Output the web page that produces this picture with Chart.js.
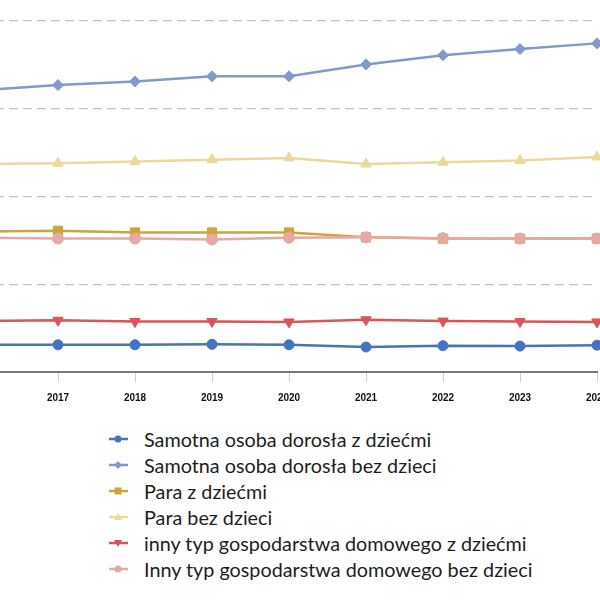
<!DOCTYPE html>
<html>
<head>
<meta charset="utf-8">
<script src="https://cdn.jsdelivr.net/npm/chart.js@4/dist/chart.umd.min.js"></script>
<style>
  html, body { margin: 0; padding: 0; background: #ffffff; }
  #wrap { position: relative; width: 600px; height: 600px; overflow: hidden; background: #fff; }
  #cv { position: absolute; left: -49px; top: 0; }
  #legend { position: absolute; left: 108px; top: 426px; font-family: Lato, "Open Sans", sans-serif; font-size: 19.8px; color: #1e1e1e; }
  .item { height: 26px; display: flex; align-items: center; white-space: nowrap; }
  .item svg { margin-right: 15px; flex: none; }
</style>
</head>
<body>
<div id="wrap">
  <canvas id="cv" width="676" height="423"></canvas>
  <div id="legend"></div>
</div>
<script>
const years = ["2016", "2017", "2018", "2019", "2020", "2021", "2022", "2023", "2024"];
const seriesNames = [
  "Samotna osoba dorosła z dziećmi",
  "Samotna osoba dorosła bez dzieci",
  "Para z dziećmi",
  "Para bez dzieci",
  "inny typ gospodarstwa domowego z dziećmi",
  "Inny typ gospodarstwa domowego bez dzieci"
];
const singleWithKids    = [3.1, 3.1, 3.1, 3.15, 3.1, 2.85, 3.0, 2.95, 3.05];
const singleNoKids      = [32.1, 32.7, 33.1, 33.7, 33.7, 35.05, 36.1, 36.8, 37.45];
const coupleWithKids    = [16.0, 16.1, 15.9, 15.9, 15.9, 15.35, 15.2, 15.2, 15.2];
const coupleNoKids      = [23.7, 23.8, 24.0, 24.2, 24.4, 23.7, 23.9, 24.1, 24.5];
const otherWithKids     = [5.8, 5.9, 5.75, 5.75, 5.7, 5.95, 5.8, 5.75, 5.7];
const otherNoKids       = [15.3, 15.2, 15.2, 15.1, 15.3, 15.35, 15.25, 15.2, 15.2];

const seriesValues = [singleWithKids, singleNoKids, coupleWithKids, coupleNoKids, otherWithKids, otherNoKids];
const colors  = ["#4472c4", "#8499c9", "#c9a73e", "#ebd89b", "#d9545c", "#e8a8a6"];
const styles  = ["circle", "rectRot", "rect", "triangle", "triangle", "circle"];
const rotations = [0, 0, 0, 0, 180, 0];
const radii   = [5, 5.5, 6.5, 6, 6, 5.5];

const datasets = seriesNames.map((name, i) => ({
  label: name,
  data: seriesValues[i],
  borderColor: colors[i],
  backgroundColor: colors[i],
  pointBackgroundColor: colors[i],
  pointBorderColor: colors[i],
  pointStyle: styles[i],
  rotation: rotations[i],
  pointRadius: radii[i],
  pointBorderWidth: 1,
  borderWidth: 2.5,
  tension: 0,
  clip: false,
  order: 6 - i
}));

const chart = new Chart(document.getElementById("cv"), {
  type: "line",
  data: { labels: years, datasets },
  options: {
    responsive: false,
    animation: false,
    devicePixelRatio: 1,
    layout: { padding: { left: 30, right: 30, top: 21, bottom: 9 } },
    plugins: { legend: { display: false }, tooltip: { enabled: false } },
    scales: {
      x: {
        offset: false,
        grid: { drawOnChartArea: false, drawTicks: true, tickLength: 10, color: "#d0d0d0", lineWidth: 1 },
        border: { display: true, color: "#7a7a7a", width: 2 },
        ticks: { color: "#111", padding: 10, font: { family: "'Liberation Sans', Arial, sans-serif", size: 10, weight: "bold" }, maxRotation: 0, autoSkip: false }
      },
      y: {
        min: 0, max: 40,
        ticks: { display: false, stepSize: 10 },
        grid: { drawTicks: false, color: "#c4c4c4", lineWidth: 1.3 },
        border: { display: false, dash: [9, 5] }
      }
    }
  }
});

// HTML legend built from the chart's datasets
const legend = document.getElementById("legend");
function markerSVG(style, color, rot) {
  const cx = 10, cy = 7;
  let shape = "";
  if (style === "circle") shape = `<circle cx="${cx}" cy="${cy}" r="3.5" fill="${color}"/>`;
  else if (style === "rectRot") shape = `<polygon points="${cx},${cy-4} ${cx+4},${cy} ${cx},${cy+4} ${cx-4},${cy}" fill="${color}"/>`;
  else if (style === "rect") shape = `<rect x="${cx-3.5}" y="${cy-3.5}" width="7" height="7" fill="${color}"/>`;
  else if (style === "triangle") {
    shape = rot === 180
      ? `<polygon points="${cx-4},${cy-3} ${cx+4},${cy-3} ${cx},${cy+4}" fill="${color}"/>`
      : `<polygon points="${cx-4},${cy+3} ${cx+4},${cy+3} ${cx},${cy-4}" fill="${color}"/>`;
  }
  return `<svg width="21" height="14" viewBox="0 0 21 14"><line x1="1" y1="${cy}" x2="20" y2="${cy}" stroke="${color}" stroke-width="2.5"/>${shape}</svg>`;
}
chart.data.datasets.forEach((ds) => {
  const row = document.createElement("div");
  row.className = "item";
  row.innerHTML = markerSVG(ds.pointStyle, ds.borderColor, ds.rotation);
  const span = document.createElement("span");
  span.textContent = ds.label;
  row.appendChild(span);
  legend.appendChild(row);
});
</script>
</body>
</html>
